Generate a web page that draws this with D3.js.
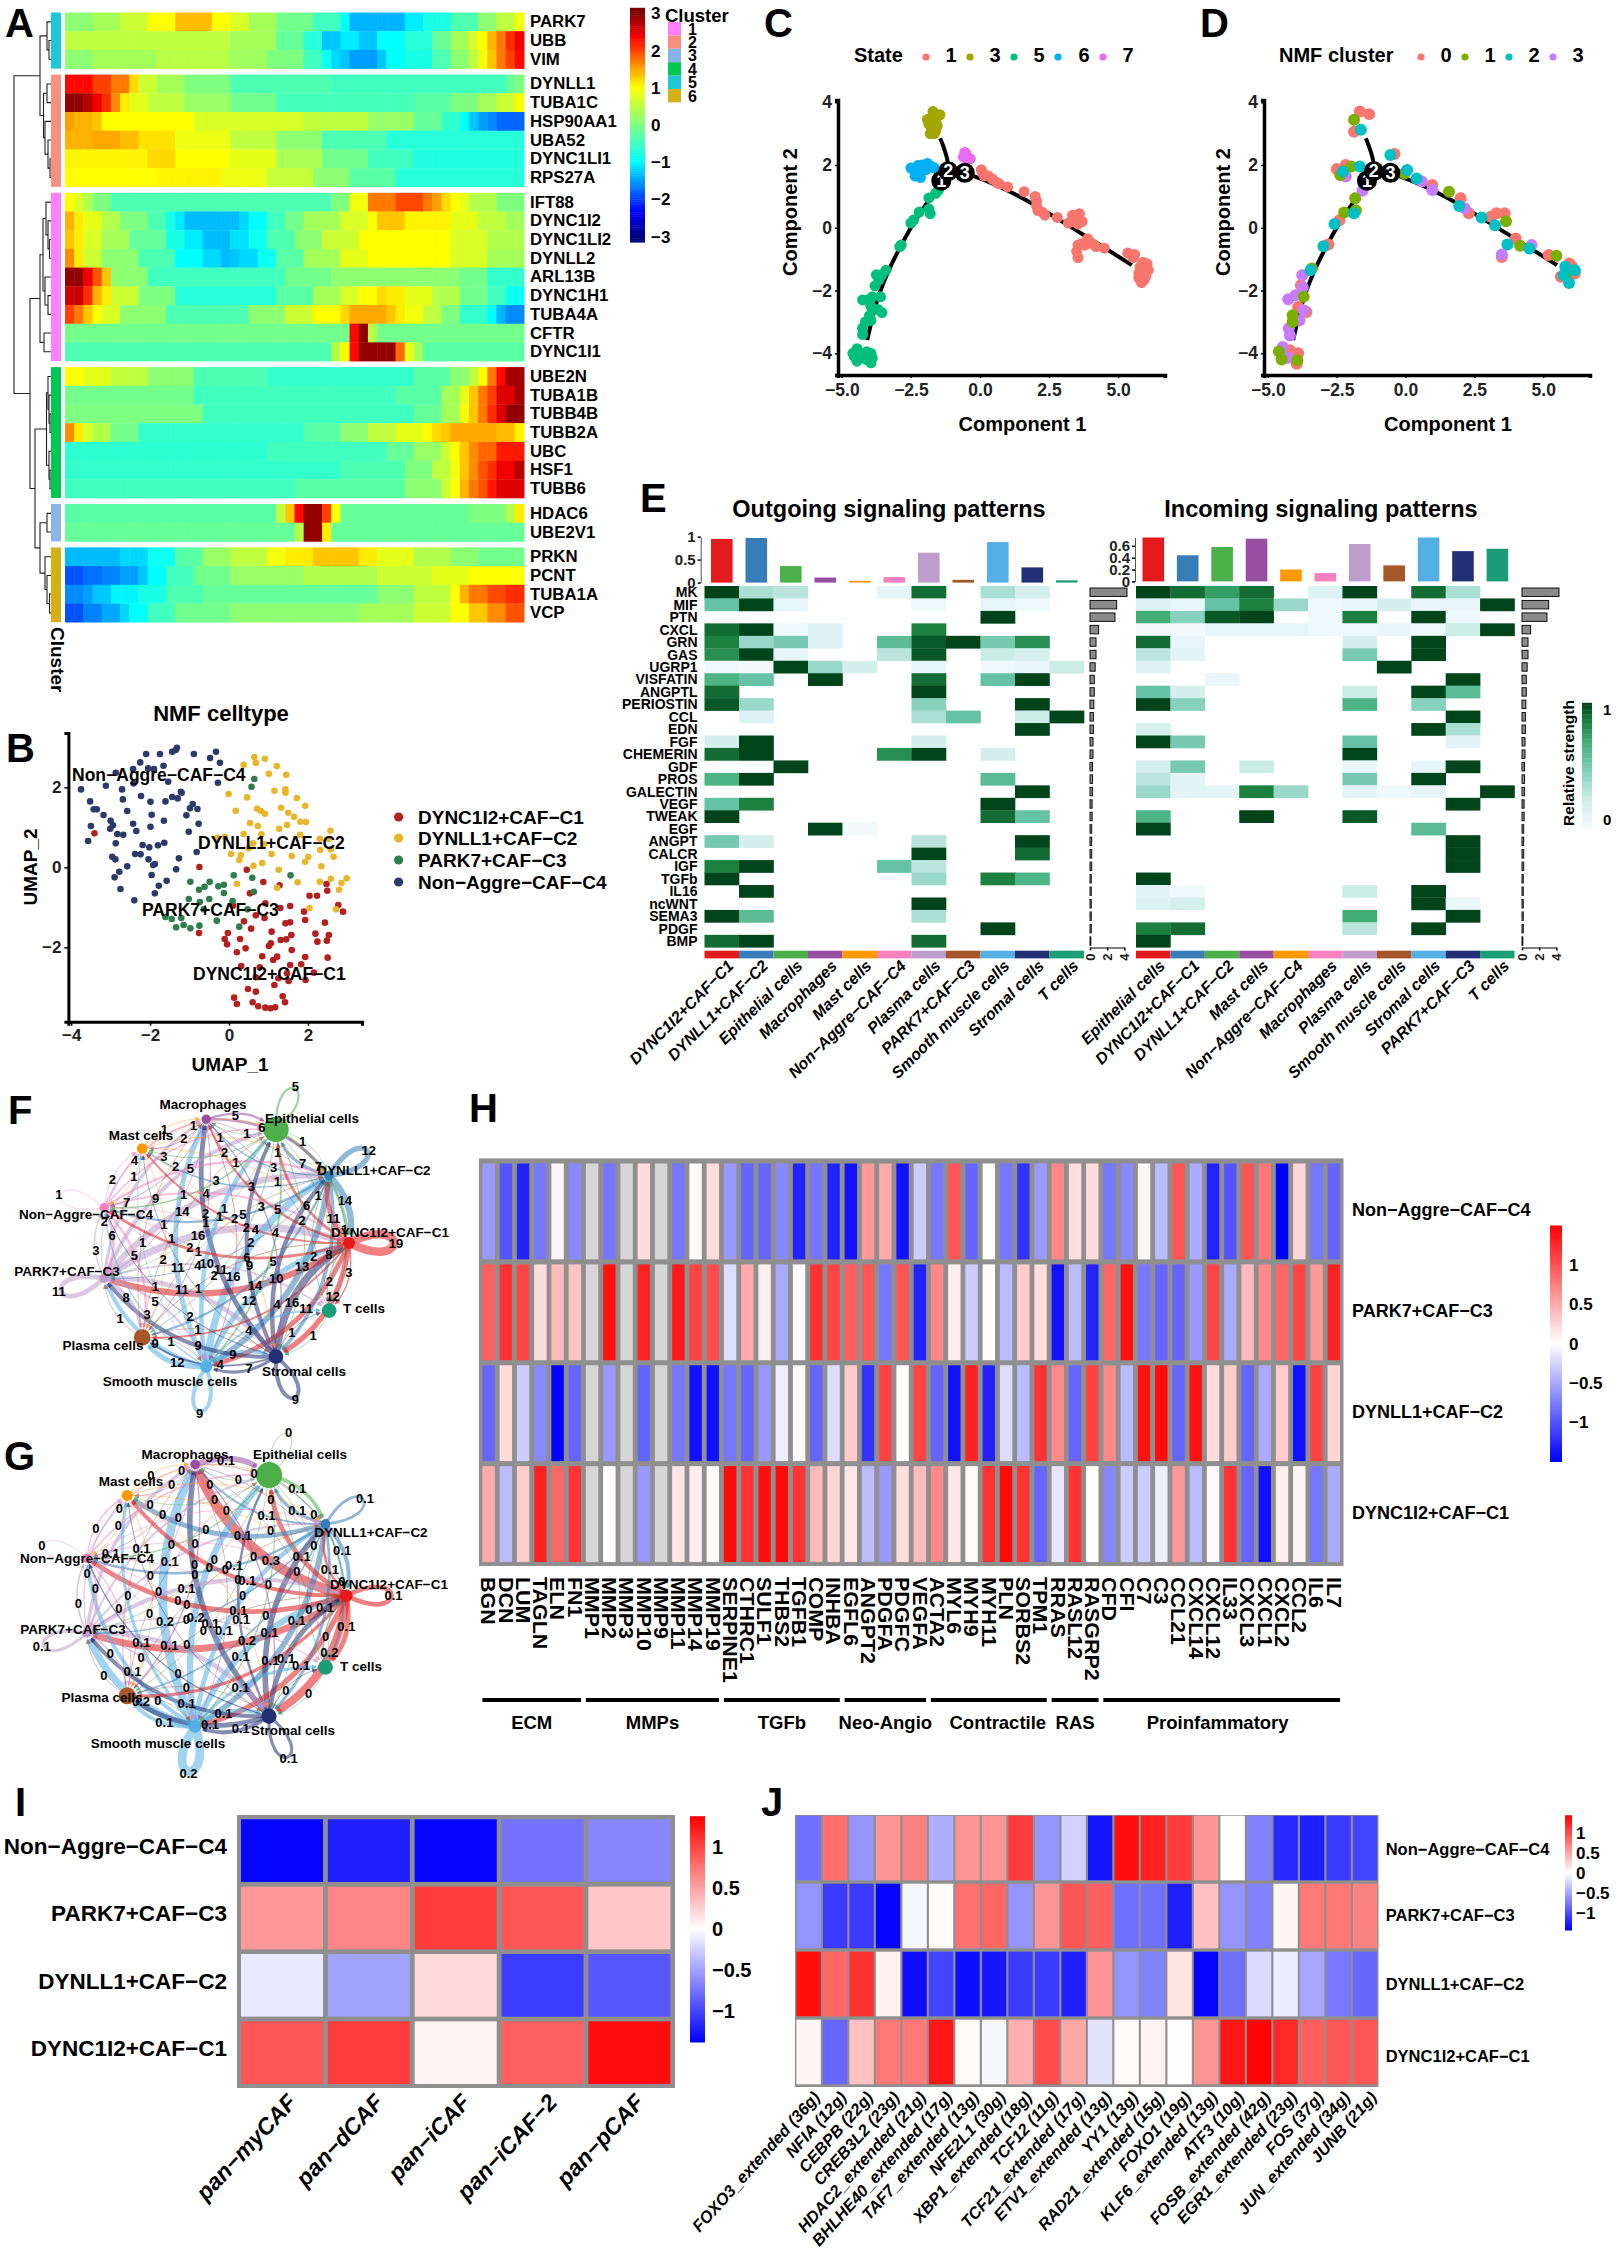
<!DOCTYPE html>
<html><head><meta charset="utf-8">
<script src="https://cdn.jsdelivr.net/npm/d3@7"></script>
<style>html,body{margin:0;background:#fff}svg{display:block}text{font-family:"Liberation Sans",Arial,sans-serif}</style>
</head><body>
<script>
/* ---------- Panel A data: each row is value,endColumn pairs over 50 pseudotime columns ---------- */
const aBlocks=[5,2,1,4,3,6];
const aGenes=[["PARK7","UBB","VIM"],["DYNLL1","TUBA1C","HSP90AA1","UBA52","DYNC1LI1","RPS27A"],
["IFT88","DYNC1I2","DYNC1LI2","DYNLL2","ARL13B","DYNC1H1","TUBA4A","CFTR","DYNC1I1"],
["UBE2N","TUBA1B","TUBB4B","TUBB2A","UBC","HSF1","TUBB6"],["HDAC6","UBE2V1"],["PRKN","PCNT","TUBA1A","VCP"]];
const aRuns={
PARK7:[.1,3,.3,6,.6,9,1,12,1.35,16,1,18,.7,20,.3,23,-.1,27,-.5,30,-1,31,-1.4,37,-1.1,39,-.8,42,-.4,45,.1,47,.5,49,.9,50],
UBB:[.5,18,.3,23,-.2,26,-.7,28,-1.3,30,-1.1,32,-1.3,34,-1,37,-.7,40,-.2,42,.3,44,.7,45,1,46,1.4,47,1.7,48,2.1,49,2.4,50],
VIM:[.1,3,.3,10,.45,18,.25,22,0,26,-.5,28,-.9,29,-1.2,30,-1.3,31,-1.5,34,-1.3,35,-1,37,-.8,40,-.4,42,.1,44,.5,45,.9,46,1.3,47,1.7,48,2,49,2.3,50],
DYNLL1:[2.3,3,2,5,1.7,7,1.2,8,.6,10,.3,13,0,18,-.4,29,-.5,48,-.2,49,0,50],
TUBA1C:[2.9,2,2.7,3,2.4,4,2.1,5,1.6,6,1.1,7,.8,9,.5,13,.2,18,-.1,23,-.45,38,-.3,42,0,45,.3,47,.6,49,1,50],
HSP90AA1:[1.5,1,1.4,3,1.3,4,1,14,.7,26,.5,33,.2,38,-.2,41,-.6,43,-1,44,-1.3,45,-1.5,46,-1.6,47,-1.8,50],
UBA52:[1.4,3,1.45,6,1.35,8,1.15,12,.85,18,.5,23,.1,28,-.4,35,-.7,50],
DYNC1LI1:[1.05,9,1.2,12,1,18,.8,23,.35,28,-.1,33,-.5,38,-.75,50],
RPS27A:[1,10,1.05,17,.85,22,.55,27,.1,31,-.3,36,-.7,50],
IFT88:[1,1,.7,2,.4,3,0,5,-.4,29,0,31,.9,33,1.7,36,1.95,39,1.7,40,1.5,41,1.2,42,1,43,.8,44,.4,47,0,50],
DYNC1I2:[1.4,1,1.1,2,.8,4,.4,6,0,9,-.4,11,-.8,12,-1.1,13,-1.35,19,-1.2,20,-1,22,-.5,24,-.1,26,.3,30,.7,33,1,34,1.3,37,1.05,42,.8,45,.5,48,.3,50],
DYNC1LI2:[1.3,1,1.1,2,.7,4,.3,7,-.2,11,-.8,13,-1.1,15,-1.35,18,-1.15,20,-.9,22,-.4,25,.1,28,.6,32,1,42,.7,46,.4,50],
DYNLL2:[1.6,1,1.1,2,.6,4,.1,8,-.4,12,-1,15,-1.2,17,-1.35,18,-1.3,19,-1.2,21,-.9,23,-.3,26,.3,30,.8,33,1,42,.7,46,.3,50],
ARL13B:[2.9,2,2.4,3,1.9,4,1.3,5,.1,9,-.5,24,-.1,29,.1,43,-.1,46,-.6,50],
DYNC1H1:[2.6,2,2.1,3,1.4,4,1.1,5,.6,8,0,12,-.7,23,-.3,27,.3,30,.7,32,1,34,1.2,35,1.1,37,.8,40,.4,43,-.1,46,-.5,48,-.9,50],
TUBA4A:[2,1,1.7,2,1.3,3,1,4,.7,6,.1,11,-.4,20,.1,24,.6,27,1,30,1.2,31,1.45,35,1.3,36,1.1,37,.9,39,.5,41,0,43,-.6,46,-1,47,-1.4,48,-1.6,50],
CFTR:[-.1,31,2.3,32,2.9,33,.4,34,-.1,50],
DYNC1I1:[-.4,29,.4,30,1,31,2.3,32,2.9,36,1.8,37,.8,38,.3,39,-.3,50],
UBE2N:[1,2,.8,5,.5,9,.1,14,-.4,22,-.6,38,-.3,42,.1,44,.5,45,1,46,1.7,47,2.3,48,2.8,50],
TUBA1B:[-.1,14,-.5,36,-.3,41,.3,43,.8,44,1.3,45,1.7,46,2,47,2.5,49,2.8,50],
TUBB4B:[0,15,-.5,38,-.2,41,.3,43,.9,44,1.3,45,1.7,46,2.1,47,2.5,48,2.9,50],
TUBB2A:[1.6,1,1.1,2,.7,3,.4,5,-.1,8,-.6,26,-.3,30,.1,33,.5,36,.8,39,1,40,1.2,41,1.3,42,1.45,47,1.35,49,1.05,50],
UBC:[-.65,22,-.5,35,-.2,38,.2,41,.6,42,1,43,1.3,44,1.6,45,1.8,47,2.2,50],
HSF1:[-.6,30,-.4,37,0,40,.5,42,.9,43,1.3,44,1.6,45,1.9,46,2.1,47,2.4,49,2.7,50],
TUBB6:[-.5,25,-.3,37,.1,41,.6,42,1,43,1.4,44,1.7,45,1.9,46,2.2,47,2.5,50],
HDAC6:[-.3,23,.5,24,1.3,25,2.3,26,2.9,28,2,29,1,30,-.2,44,0,48,.4,49,1.1,50],
UBE2V1:[-.2,25,.4,26,2.9,28,1.1,29,-.2,50],
PRKN:[-1.35,6,-1.2,9,-.9,12,-.3,15,.2,18,.5,22,.9,24,1.1,27,1.3,32,1.1,34,.8,38,.4,42,.1,45,-.1,50],
PCNT:[-1.9,2,-1.75,4,-1.65,6,-1.5,8,-1.3,9,-1,11,-.5,14,-.1,18,.2,26,.4,34,.6,40,.8,44,1,50],
TUBA1A:[-1.6,2,-1.5,3,-1.3,5,-1.05,8,-.8,11,-.4,15,-.2,34,.1,38,.5,42,1,43,1.4,44,1.7,46,1.95,48,2.1,50],
VCP:[-1.9,2,-1.65,4,-1.45,6,-1.2,7,-1,9,-.5,12,-.1,18,.1,32,.3,38,.6,42,1,44,1.3,46,1.6,48,1.9,50]};
const aTree=[37,[11,[4,0,[2,0,0]],[7.5,[4,0,0],[6,0,[3,0,[1,0,0]]]]],
 [21,[11,[8,[5,0,[3,0,[1.5,0,0]]],[6,0,[3,0,0]]],[7,0,0]],
 [16,[4.5,[3,0,[2,0,[1,0,0]]],[2,0,[1,0,0]]],[11,[4,0,0],[6,0,[4,0,[1.5,0,0]]]]]]];
const clusterColors={1:"#FF80FF",2:"#F98F80",3:"#88B4E8",4:"#00C853",5:"#1CC8D8",6:"#D4B017"};

/* ---------- Panel B ---------- */
const umapC4=[[205,268],[228,304],[237,328],[245,328],[262,345],[280,362],[230,378],[286,376],[279,386],[223,423],[297,402],[312,404],[293,430],[284,470],[292,478],[322,499],[302,515],[290,532],[305,567],[340,601],[392,580],[402,557],[422,542],[446,508],[384,525],[392,492],[388,495],[376,478],[356,463],[342,462],[361,435],[378,442],[400,436],[416,428],[453,475],[498,456],[478,395],[503,371],[472,346],[481,325],[488,312],[500,327],[458,275],[450,295],[436,291],[419,304],[415,362],[384,344],[381,380],[345,393],[337,371],[322,333],[311,298],[309,268],[268,257],[293,218],[337,207],[338,250],[355,187],[370,162],[375,205],[390,207],[405,162],[414,197],[426,245],[436,155],[445,150],[448,143],[491,162],[532,174],[547,155],[557,188],[552,248],[381,305],[357,288],[460,278]].map(p=>[(p[0]-580)/100,(502-p[1])/120]);
const umapC1=[[239,400],[505,501],[625,509],[667,546],[708,556],[633,580],[827,552],[829,572],[784,587],[803,587],[857,615],[869,635],[770,635],[672,610],[590,617],[710,624],[735,618],[648,646],[670,654],[618,664],[577,699],[569,717],[575,733],[504,699],[636,686],[608,717],[622,745],[600,757],[664,769],[688,695],[686,730],[681,738],[711,720],[725,718],[738,705],[739,750],[723,670],[735,667],[773,660],[823,668],[799,701],[833,705],[828,722],[804,725],[692,780],[702,770],[773,771],[830,773],[735,795],[763,793],[611,798],[658,802],[648,832],[727,820],[795,818],[705,835],[731,843],[774,840],[695,855],[628,867],[648,875],[593,893],[600,912],[640,907],[654,919],[672,923],[685,925],[697,922],[716,889],[722,907]].map(p=>[(p[0]-580)/100,(502-p[1])/120]);
const umapC2=[[644,171],[671,176],[648,188],[617,194],[701,198],[681,221],[725,224],[695,272],[723,268],[723,278],[579,282],[626,292],[752,294],[773,317],[597,332],[651,326],[660,332],[671,341],[712,323],[730,338],[745,350],[761,365],[775,366],[633,369],[653,378],[727,375],[707,386],[837,392],[617,402],[662,403],[760,404],[810,416],[832,417],[570,411],[550,413],[641,430],[630,445],[670,432],[585,462],[610,465],[606,480],[688,462],[739,468],[781,470],[773,485],[664,489],[642,497],[706,509],[814,499],[845,470],[811,450],[838,448],[600,551],[754,547],[810,545],[838,536],[865,549],[878,535],[859,569],[702,563],[784,624],[851,628]].map(p=>[(p[0]-580)/100,(502-p[1])/120]);
const umapC3=[[644,237],[637,260],[592,526],[639,533],[736,526],[482,545],[504,569],[518,560],[531,545],[553,559],[567,554],[567,579],[643,575],[478,597],[506,606],[530,597],[589,603],[516,628],[627,628],[419,651],[435,657],[459,654],[549,662],[465,675],[446,682],[482,685],[505,677],[606,680]].map(p=>[(p[0]-580)/100,(502-p[1])/120]);
const cafNames=["DYNC1I2+CAF−C1","DYNLL1+CAF−C2","PARK7+CAF−C3","Non−Aggre−CAF−C4"];
const cafColors=["#B3201F","#E9B62A","#2E7D4F","#2C3A6B"];

/* ---------- Panels C, D ---------- */
const state1=[[.05,1.85],[.1,1.75],[.15,1.65],[.3,1.65],[.45,1.55],[.6,1.45],[.7,1.4],[1,1.3],[1.6,1.15],[2,1],[2.05,.85],[2.05,.7],[2.1,.55],[2.25,.5],[2.35,.4],[2.8,.33],[3.2,.15],[3.3,.2],[3.35,.4],[3.4,.25],[3.5,.2],[3.55,.12],[3.6,.45],[3.6,.25],[3.7,.2],[3.9,-.35],[3.55,-.55],[3.5,-.75],[3.55,-.95],[3.7,-.5],[3.8,-.55],[4.05,-.5],[4.2,-.6],[4.5,-.65],[5.35,-.8],[5.6,-.85],[5.55,-.95],[5.9,-1.1],[6.05,-1.15],[5.8,-1.25],[5.95,-1.35],[6.1,-1.35],[5.75,-1.45],[5.9,-1.5],[6,-1.55],[5.75,-1.6],[5.85,-1.75],[5.95,-1.65]];
const state3=[[-1.7,3.7],[-1.45,3.6],[-1.9,3.45],[-1.7,3.5],[-1.85,3.3],[-1.6,3.35],[-1.75,3.15],[-1.6,3.1],[-1.8,3],[-1.65,3],[-1.55,3.25]];
const state5=[[-1.5,1.2],[-1.6,1.1],[-1.85,.95],[-1.85,.6],[-1.8,.45],[-2.2,.5],[-2.4,.25],[-2.5,.15],[-2.85,-.55],[-2.9,-.6],[-3.4,-1.35],[-3.55,-1.5],[-3.75,-1.5],[-3.65,-1.65],[-3.8,-1.85],[-3.6,-2.2],[-3.9,-2.2],[-4.1,-2.3],[-4.25,-2.3],[-3.95,-2.5],[-3.55,-2.7],[-3.7,-2.6],[-4,-2.8],[-3.95,-2.95],[-4.15,-3],[-4.25,-3.2],[-4.25,-3.4],[-4.5,-3.95],[-4.6,-4],[-4.45,-3.85],[-4.3,-4],[-4.1,-3.95],[-4.55,-4.1],[-4.4,-4.15],[-4.25,-4.05],[-4,-4.1],[-3.95,-4],[-4.45,-4.25],[-4.1,-4.2],[-3.95,-4.3],[-3.9,-4.15]];
const state6=[[-2.5,1.9],[-2.35,1.75],[-2.2,1.85],[-2.35,1.65],[-2.15,1.6],[-2.05,1.9],[-2.1,2],[-1.9,2.05],[-1.95,1.85],[-1.75,1.95],[-1.65,1.9],[-2.25,1.98]];
const state7=[[-.55,2.4],[-.6,2.25],[-.45,2.2],[-.5,2.35],[-.35,2.2]];
const nmf0=[[-2.5,1.87],[-2.17,2],[-.4,2.35],[.97,1.36],[2,.94],[2.3,.46],[3.1,.35],[3.3,.46],[3.6,.46],[4,-.34],[3.5,-.93],[-2.8,-.53],[-2.4,.24],[5.2,-.87],[-1.66,3.7],[-1.32,3.62],[-1.87,3.06],[-3.6,-2.68],[-3.9,-2.52],[-3.8,-1.83],[-4.2,-3.9],[-3.9,-4],[-3.95,-4.33],[6.05,-1.24],[6.15,-1.46],[5.64,-1.56],[5.95,-1.14]];
const nmf1=[[-1.97,1.95],[-1.87,3.44],[-.04,1.73],[1.58,1.15],[-1.83,.94],[-1.8,.56],[-2.23,.49],[3.65,.21],[4.16,-.57],[5.48,-.89],[5.84,-1.48],[-3.4,-1.3],[-3.7,-2.2],[-4.1,-2.79],[-4.1,-3],[-4.6,-3.94],[-4.5,-4.2],[-3.93,-4.22],[-2.37,1.68]];
const nmf2=[[-1.66,1.95],[-2.27,1.79],[-1.62,3.12],[-.55,2.32],[.06,1.84],[.4,1.57],[1.95,.69],[2.76,.33],[3.25,.08],[3.7,-.53],[4.5,-.66],[-1.87,.46],[-2.58,.12],[-2.98,-.59],[-3.45,-1.35],[5.8,-1.24],[6.15,-1.35],[5.74,-1.51],[5.94,-1.76]];
const nmf3=[[-2.17,1.63],[.6,1.47],[.97,1.2],[2.15,.62],[3.5,-.85],[-1.56,1.18],[-3.75,-1.51],[-3.73,-1.9],[-4,-2.15],[-4.26,-2.28],[-3.7,-2.63],[-3.85,-2.95],[-4.24,-3.21],[-4.2,-3.43],[-4.46,-3.8],[-4.26,-4.14],[4.58,-.55]];
const trunkA=[[-4.08,-3.58],[-3.6,-2],[-2.62,-.18],[-1.5,1.31]];
const trunkB=[[-.55,1.71],[-.18,1.63],[1.44,.99],[3.67,-.18],[5.5,-1.19]];
const trunkC=[[-1.44,2.85],[-1.16,1.95],[-1.4,1.47]];
const branchPts=[[-1.4,1.5,"1"],[-1.15,1.8,"2"],[-.55,1.75,"3"]];

/* ---------- Panel E ---------- */
const _=null;
const signals=["MK","MIF","PTN","CXCL","GRN","GAS","UGRP1","VISFATIN","ANGPTL","PERIOSTIN","CCL","EDN","FGF","CHEMERIN","GDF","PROS","GALECTIN","VEGF","TWEAK","EGF","ANGPT","CALCR","IGF","TGFb","IL16","ncWNT","SEMA3","PDGF","BMP"];
const outCols=["DYNC1I2+CAF−C1","DYNLL1+CAF−C2","Epithelial cells","Macrophages","Mast cells","Non−Aggre−CAF−C4","Plasma cells","PARK7+CAF−C3","Smooth muscle cells","Stromal cells","T cells"];
const inCols=["Epithelial cells","DYNC1I2+CAF−C1","DYNLL1+CAF−C2","Mast cells","Non−Aggre−CAF−C4","Macrophages","Plasma cells","Smooth muscle cells","Stromal cells","PARK7+CAF−C3","T cells"];
const stripColors=["#E41A1C","#377EB8","#4DAF4A","#984EA3","#FF9900","#F781BF","#BC9DCC","#A65628","#54B0E4","#222F75","#1B9E77"];
const outTop=[.95,.97,.36,.11,.04,.12,.65,.06,.88,.33,.05];
const inTop=[.74,.44,.58,.72,.2,.14,.63,.27,.74,.51,.55];
const outSide=[4.3,3.1,2.9,1,.7,.7,.6,.5,.5,.45,.4,.4,.35,.35,.3,.3,.3,.25,.25,.2,.2,.2,.2,.15,.15,.15,.15,.15,.1];
const inSide=[4.3,3.1,2.9,1,.7,.7,.6,.5,.5,.45,.4,.4,.35,.35,.3,.3,.3,.25,.25,.2,.2,.2,.2,.15,.15,.15,.15,.15,.1];
const outHeat=[[1,.35,.3,_,_,.1,.9,_,.35,.2,_],[.55,1,.1,_,_,_,.05,_,.1,.05,_],[_,_,_,_,_,_,_,_,1,_,_],[.9,1,.05,.15,_,_,.85,_,_,_,_],[.85,.4,.5,.15,_,.6,.95,1,.5,.8,_],[.8,1,.1,_,_,.3,.95,_,.25,.2,_],[.05,.03,1,.4,.2,_,.1,_,.05,.08,.25],[.65,.55,_,1,_,_,.9,_,.55,1,_],[.9,_,_,_,_,_,1,_,_,_,_],[.95,.4,_,_,_,_,.45,_,_,1,_],[_,.15,_,_,_,_,.35,.55,_,.25,1],[_,_,_,_,_,_,_,_,_,1,_],[.2,1,_,_,_,_,.2,_,_,_,_],[.9,1,_,_,_,.8,1,_,.2,_,_],[_,_,1,_,_,_,_,_,_,_,_],[.65,1,_,_,_,_,_,_,.6,_,_],[_,_,_,_,_,_,_,_,_,1,_],[.55,.85,_,_,_,_,_,_,1,_,_],[1,_,_,_,_,_,_,_,.9,.55,_],[_,_,_,1,.03,_,_,_,_,_,_],[.5,.2,_,_,_,_,.3,_,_,1,_],[_,_,_,_,_,_,1,_,_,.9,_],[.85,1,_,_,_,.55,.3,_,_,_,_],[1,_,_,_,_,_,.4,_,.85,.65,_],[_,1,_,_,_,_,_,_,_,_,_],[_,_,_,_,_,_,1,_,_,_,_],[1,.6,_,_,_,_,.35,_,_,_,_],[_,_,_,_,_,_,_,_,1,_,_],[.9,1,_,_,_,_,.9,_,_,_,_]];
const inHeat=[[1,.9,.75,.9,_,.15,1,_,.9,.35,_],[.15,.08,.55,.85,.4,.05,.08,.2,.07,.08,1],[.7,.45,.95,1,_,.05,.85,_,1,.05,_],[.03,.03,.1,.1,.1,.05,.05,.07,.05,.25,1],[.9,.08,_,_,_,_,.2,_,1,_,_],[.3,.12,_,_,_,_,.5,_,1,_,_],[.15,_,_,_,_,_,_,1,_,_,_],[_,_,.08,_,_,_,_,_,_,1,_],[.55,.2,_,_,_,_,.25,_,1,.6,_],[1,.45,_,_,_,_,.65,_,.45,_,_],[_,_,_,_,_,_,_,_,_,1,_],[.2,_,_,_,_,_,_,_,1,.35,_],[1,.5,_,_,_,_,.55,_,_,.12,_],[_,_,_,_,_,_,1,_,_,_,_],[.2,.5,_,.25,_,_,.08,_,.1,1,_],[.3,.12,_,_,_,_,.5,_,1,_,_],[.4,.12,.12,.85,.4,_,.12,.05,.1,_,1],[_,_,_,_,_,_,_,_,_,1,_],[.65,_,_,1,_,_,.95,_,_,_,_],[1,_,_,_,_,_,_,_,.6,_,_],[_,_,_,_,_,_,_,_,_,1,_],[_,_,_,_,_,_,_,_,_,1,_],[_,_,_,_,_,_,_,_,_,1,_],[1,_,_,_,_,_,_,_,_,_,_],[.12,.04,_,_,_,_,.25,_,1,_,_],[.15,.2,_,_,_,_,_,_,1,.08,_],[_,_,_,_,_,_,.7,_,_,1,_],[.85,.9,_,_,_,_,.3,_,1,_,_],[1,_,_,_,_,_,_,_,_,_,_]];

/* ---------- Panels F, G: nodes and weighted edges [source,target,value] ---------- */
const netNodes=["DYNC1I2+CAF−C1","DYNLL1+CAF−C2","Epithelial cells","Macrophages","Mast cells","Non−Aggre−CAF−C4","PARK7+CAF−C3","Plasma cells","Smooth muscle cells","Stromal cells","T cells"];
const netColors=["#E41A1C","#377EB8","#4DAF4A","#984EA3","#FF9900","#F781BF","#BC9DCC","#A65628","#54B0E4","#222F75","#1B9E77"];
const netSizes=[6,4.7,12.7,4.7,5.3,4.7,4.7,8.3,6,7.3,7.3];
const fEdges=[[0,0,19],[1,1,12],[2,2,5],[5,5,1],[6,6,11],[8,8,9],[9,9,9],
[0,1,11],[0,2,6],[0,3,5],[0,4,4],[0,5,6],[0,6,14],[0,7,4],[0,8,11],[0,9,12],[0,10,3],
[1,0,14],[1,2,7],[1,3,3],[1,4,3],[1,5,5],[1,6,2],[1,7,5],[1,8,13],[1,9,8],[1,10,1],
[2,0,7],[2,1,1],[2,3,1],[2,4,2],[2,5,3],[2,6,1],[2,7,2],[2,8,4],[2,9,2],[2,10,1],
[3,0,1],[3,1,6],[3,2,5],[3,4,2],[3,5,2],[3,6,1],[3,7,2],[3,8,2],[3,9,3],[3,10,1],
[4,0,1],[4,1,1],[4,2,1],[4,3,1],[4,5,1],[4,7,1],[4,9,1],
[5,0,4],[5,1,5],[5,2,3],[5,3,4],[5,4,2],[5,6,6],[5,7,5],[5,8,2],[5,9,2],[5,10,1],
[6,0,16],[6,1,14],[6,2,9],[6,3,7],[6,4,2],[6,5,3],[6,7,8],[6,8,5],[6,9,11],[6,10,4],
[7,0,2],[7,1,1],[7,2,1],[7,3,1],[7,6,1],[7,8,1],[7,9,1],
[8,0,12],[8,1,16],[8,2,10],[8,3,11],[8,4,1],[8,5,3],[8,6,9],[8,7,12],[8,9,9],[8,10,4],
[9,0,16],[9,1,10],[9,2,9],[9,3,11],[9,4,1],[9,5,2],[9,6,9],[9,7,4],[9,8,7],[9,10,1],
[10,0,2],[10,1,2],[10,9,1]];
const gEdges=[[0,0,.12],[1,1,.07],[2,2,.02],[5,5,.01],[6,6,.08],[8,8,.22],[9,9,.08],
[0,1,.06],[0,2,.12],[0,3,.25],[0,4,.1],[0,5,.12],[0,6,.17],[0,7,.08],[0,8,.13],[0,9,.2],[0,10,.12],
[1,0,.1],[1,2,.08],[1,3,.05],[1,4,.12],[1,5,.06],[1,6,.04],[1,7,.04],[1,8,.14],[1,9,.07],[1,10,.04],
[2,0,.03],[2,1,.09],[2,3,.01],[2,4,.01],[2,5,.03],[2,6,.02],[2,7,.02],[2,8,.03],[2,9,.02],[2,10,.01],
[3,0,.02],[3,1,.02],[3,2,.14],[3,4,.01],[3,5,.01],[3,6,.01],[3,7,.03],[3,8,.01],[3,9,.03],[3,10,.01],
[4,0,.01],[4,1,.01],[4,2,.01],[4,3,.01],[4,5,.01],[4,7,.01],[4,9,.01],
[5,0,.02],[5,1,.02],[5,2,.04],[5,3,.03],[5,4,.03],[5,6,.04],[5,7,.03],[5,8,.02],[5,9,.02],[5,10,.01],
[6,0,.1],[6,1,.05],[6,2,.05],[6,3,.09],[6,4,.03],[6,5,.04],[6,7,.04],[6,8,.04],[6,9,.12],[6,10,.03],
[7,0,.02],[7,1,.01],[7,2,.01],[7,3,.01],[7,6,.01],[7,8,.01],[7,9,.01],
[8,0,.15],[8,1,.12],[8,2,.16],[8,3,.22],[8,4,.08],[8,5,.1],[8,6,.18],[8,7,.1],[8,9,.1],[8,10,.08],
[9,0,.12],[9,1,.14],[9,2,.06],[9,3,.14],[9,4,.02],[9,5,.03],[9,6,.1],[9,7,.12],[9,8,.1],[9,10,.02],
[10,0,.03],[10,1,.02],[10,9,.01]];

/* ---------- Panel H ---------- */
const hGenes=["BGN","DCN","LUM","TAGLN","ELN","FN1","MMP1","MMP2","MMP3","MMP10","MMP9","MMP11","MMP14","MMP19","SERPINE1","CTHRC1","SULF1","THBS2","TGFB1","COMP","INHBA","EGFL6","ANGPT2","PDGFA","PDGFC","VEGFA","ACTA2","MYL6","MYH9","MYH11","PLN","SORBS2","TPM1","RRAS","RASL12","RASGRP2","CFD","CFI","C7","C3","CCL21","CXCL14","CXCL12","IL33","CXCL3","CXCL1","CXCL2","CCL2","IL6","IL7"];
const hRows=["Non−Aggre−CAF−C4","PARK7+CAF−C3","DYNLL1+CAF−C2","DYNC1I2+CAF−C1"];
const hNon=[-.6,-1,-1.3,-.8,.05,-.7,_,-.8,_,.2,_,-.8,.02,.2,-.6,-.9,-.9,-.7,-1.3,-.8,-1.3,-1.4,.6,.5,-1.4,-.3,-.8,1,-.9,0,-.8,-1.2,-.6,.7,.2,.2,-.8,-.7,.05,-.4,1,-.5,-1.3,-1,1,.8,-1.5,.25,-.8,-.9];
const hPark=[.95,1.2,1.1,.2,.4,.35,_,1.4,_,1.3,_,1.35,1.1,1.05,-.2,.5,.1,-.5,.03,1.2,1.1,.95,1,-.8,1,-1.3,.7,.1,-.3,.02,-.4,.3,.2,-1.4,-.4,-1.3,.9,1.4,-.8,-.9,-.9,-.6,1.1,-.5,.4,.7,.9,1.1,.6,1.3];
const hDyn=[-.9,.2,-.3,-.7,-1.5,-.9,_,-.6,_,-.9,_,-.8,-1.4,-1.4,-.8,-.9,-.6,-.1,.03,-.9,-.2,.3,-1.2,1.1,.02,1.1,-.9,-1.4,1.3,-1.3,-.2,-.4,1.2,.7,-.9,1.1,.7,-.4,1.4,1.45,-.9,1.4,.2,.3,-.9,-.5,.3,-1.4,1.1,.25];
const hC1=[.5,-.4,.3,1.3,.9,1.2,_,.02,_,-.6,_,.15,.1,.03,1.45,1.2,1.4,1.45,1.2,.4,.25,.15,-.4,-.6,.2,.4,.7,.15,.03,1.2,1.45,1.2,-.9,-.15,1.2,.02,-.7,-.3,-.3,-.1,.6,-.4,.03,1.2,-.9,-1.4,.1,.05,-.8,-.5];
const hGroups=[["ECM",0,5,0],["MMPs",6,13,0],["TGFb",14,20,0],["Neo-Angio",21,25,0],["Contractile",26,32,9],["RAS",33,35,0],["Proinfammatory",36,49,-4]];

/* ---------- Panel I ---------- */
const iCols=["pan−myCAF","pan−dCAF","pan−iCAF","pan−iCAF−2","pan−pCAF"];
const iNon=[-1.35,-1.2,-1.35,-.75,-.65],iPark=[.55,.65,1.05,.9,.3],iDyn=[-.12,-.5,.2,-1.05,-.9],iC1=[.9,1.05,.06,.85,1.3];

/* ---------- Panel J ---------- */
const jCols=["FOXO3_extended (36g)","NFIA (12g)","CEBPB (22g)","CREB3L2 (23g)","HDAC2_extended (21g)","BHLHE40_extended (17g)","TAF7_extended (13g)","NFE2L1 (30g)","XBP1_extended (18g)","TCF12 (11g)","TCF21_extended (17g)","ETV1_extended (13g)","YY1 (13g)","RAD21_extended (15g)","FOXO1 (19g)","KLF6_extended (13g)","ATF3 (10g)","FOSB_extended (42g)","EGR1_extended (23g)","FOS (37g)","JUN_extended (34g)","JUNB (21g)"];
const jNon=[-.8,.8,-.6,.6,.7,-.45,.6,.6,1.1,-.6,-.25,-1.3,1.35,1.25,1.1,.6,0,-.7,-1.2,-1.25,-1.1,-1.05];
const jPark=[-.6,-1.1,-1.1,-1.4,-.05,.02,.8,.85,-.6,.6,.95,.9,-.8,-.8,-1.25,.35,-.6,-.7,.05,.75,.75,.7];
const jDyn=[1.35,.85,1.15,.08,-1.35,-1.05,-1.35,-1.3,-1.1,-1.1,-1.25,.6,-.6,-.7,.15,-1.4,-.8,-.2,-.1,-.5,-.75,-.85];
const jC1=[.05,-.85,.35,.75,.75,1.3,.03,-.05,.45,1,.5,-.15,.02,.07,0,.6,1.3,1.4,1.2,.9,.95,.95];

/* ========== drawing ========== */
const svg=d3.select("body").append("svg").attr("width",1616).attr("height",2250).attr("viewBox","0 0 1616 2250");
function T(x,y,s,o={}){
  const e=svg.append("text").attr("transform",`translate(${x},${y})`+(o.rot?` rotate(${o.rot})`:"")+(o.sx?` scale(${o.sx},1)`:""))
   .attr("font-size",o.size||14).attr("font-weight",o.weight||"bold").attr("text-anchor",o.anchor||"start")
   .attr("dominant-baseline","central").attr("fill",o.fill||"#000").text(s);
  if(o.italic)e.attr("font-style","italic");return e;}
const letters=[["A",5,23],["B",6,748],["C",764,23],["D",1200,23],["E",640,498],["F",8,1110],["G",4,1456],["H",469,1108],["I",15,1802],["J",761,1802]];
letters.forEach(l=>T(l[1],l[2],l[0],{size:40}));

/* A */
(function(){
 const jet=d3.scaleLinear().domain([-3,-2.33,-1.67,-1,0,1,1.67,2.33,3]).range(["#00007F","#0000FF","#007FFF","#00FFFF","#7FFF7F","#FFFF00","#FF7F00","#FF0000","#7F0000"]).clamp(true);
 const x=d3.scaleBand().domain(d3.range(50)).range([65,524]);
 const rowH=18.7,gap=6;let y=12.5;const leafY=[];
 aGenes.forEach((genes,b)=>{
  svg.append("rect").attr("x",51).attr("y",y).attr("width",10).attr("height",rowH*genes.length).attr("fill",clusterColors[aBlocks[b]]);
  genes.forEach(g=>{
   const runs=aRuns[g],vals=[];let c=0;
   for(let i=0;i<runs.length;i+=2){while(c<runs[i+1]){vals.push(runs[i]);c++}}
   svg.append("g").selectAll("rect").data(vals).join("rect").attr("x",(d,i)=>x(i)).attr("y",y).attr("width",x.bandwidth()+.5).attr("height",rowH+.3).attr("fill",d=>jet(d));
   T(530,y+rowH/2,g,{size:16.8});
   leafY.push(y+rowH/2);y+=rowH;
  });
  y+=gap;
 });
 let leaf=0;const den=svg.append("g").attr("stroke","#222").attr("stroke-width",1.1).attr("fill","none");
 function draw(n){ if(n===0){return {x:51,y:leafY[leaf++]}}
  const a=draw(n[1]),b=draw(n[2]),nx=51-n[0];
  den.append("path").attr("d",`M${a.x},${a.y}H${nx}V${b.y}H${b.x}`);
  return {x:nx,y:(a.y+b.y)/2};}
 draw(aTree);
 T(57,627,"Cluster",{size:19,rot:90});
 const cb=d3.scaleLinear().domain([3,-3]).range([13.4,236.6]);
 svg.append("g").selectAll("rect").data(d3.range(-3.15,3.15,.05)).join("rect").attr("x",630).attr("width",15).attr("y",d=>cb(d)-1.9).attr("height",2.3).attr("fill",d=>jet(d));
 const ax=svg.append("g").attr("transform","translate(645,0)").call(d3.axisRight(cb).tickValues([3,2,1,0,-1,-2,-3]).tickFormat(d3.format("d")).tickSize(0).tickPadding(6));
 ax.select(".domain").remove();ax.selectAll("text").attr("font-size",17).attr("font-weight","bold").attr("font-family","Liberation Sans");
 T(665,15,"Cluster",{size:18.5});
 d3.range(1,7).forEach((k,i)=>{svg.append("rect").attr("x",668).attr("y",22+i*13.4).attr("width",13).attr("height",13.4).attr("fill",clusterColors[k]);
  T(688,29+i*13.4,k,{size:16});});
})();

function styleAxis(g,size,w){g.selectAll(".domain").attr("stroke","#000").attr("stroke-width",w);g.selectAll("line").attr("stroke","#000").attr("stroke-width",1.5);
 g.selectAll("text").attr("font-size",size).attr("font-weight","bold").attr("font-family","Liberation Sans").attr("fill","#222");}

/* B */
(function(){
 const x=d3.scaleLinear().domain([-4.07,3.37]).range([68.4,362]),y=d3.scaleLinear().domain([-3.86,3.36]).range([1021.7,733]);
 styleAxis(svg.append("g").attr("transform","translate(0,1021.7)").call(d3.axisBottom(x).tickValues([-4,-2,0,2]).tickFormat(d3.format("d")).tickSizeOuter(0).tickSize(4)),17,3);
 styleAxis(svg.append("g").attr("transform","translate(68.4,0)").call(d3.axisLeft(y).tickValues([-2,0,2]).tickFormat(d3.format("d")).tickSizeOuter(0).tickSize(4)),17,3);
 [[umapC1,0],[umapC2,1],[umapC3,2],[umapC4,3]].forEach(([pts,k])=>{
  svg.append("g").selectAll("circle").data(pts).join("circle").attr("cx",d=>x(d[0])).attr("cy",d=>y(d[1])).attr("r",3.3).attr("fill",cafColors[k]);});
 T(221,713,"NMF celltype",{size:22,anchor:"middle"});
 T(30,867,"UMAP_2",{size:19,anchor:"middle",rot:-90});T(230,1064,"UMAP_1",{size:19,anchor:"middle"});
 T(72,775,cafNames[3],{size:17.5});T(198,843,cafNames[1],{size:17.5});T(142,910,cafNames[2],{size:17.5});T(193,974,cafNames[0],{size:17.5});
 cafNames.forEach((n,i)=>{const yy=[817,838,860,882][i];svg.append("circle").attr("cx",398.6).attr("cy",yy).attr("r",4.6).attr("fill",cafColors[i]);T(418,yy,n,{size:19});});
})();

/* C & D */
function traj(x0,x1,groups,legendTitle,legTx,legendItems,yLabX,r){
 const x=d3.scaleLinear().domain([-5.14,6.7]).range([x0,x1]),y=d3.scaleLinear().domain([-4.69,4.07]).range([375,100]);
 styleAxis(svg.append("g").attr("transform","translate(0,375)").call(d3.axisBottom(x).tickValues([-5,-2.5,0,2.5,5]).tickFormat(d3.format(".1f")).tickSizeOuter(0).tickSize(3).tickPadding(6)),17.5,3.5);
 styleAxis(svg.append("g").attr("transform",`translate(${x0},0)`).call(d3.axisLeft(y).tickValues([-4,-2,0,2,4]).tickFormat(d3.format("d")).tickSizeOuter(0).tickSize(3)),17.5,3.5);
 const line=d3.line().x(d=>x(d[0])).y(d=>y(d[1])).curve(d3.curveCatmullRom);
 [trunkA,trunkB,trunkC].forEach(p=>svg.append("path").attr("d",line(p)).attr("fill","none").attr("stroke","#000").attr("stroke-width",4));
 groups.forEach(([pts,c])=>svg.append("g").selectAll("circle").data(pts).join("circle").attr("cx",d=>x(d[0])).attr("cy",d=>y(d[1])).attr("r",r).attr("fill",c));
 branchPts.forEach(b=>{svg.append("circle").attr("cx",x(b[0])).attr("cy",y(b[1])).attr("r",10).attr("fill","#000");T(x(b[0]),y(b[1]),b[2],{size:18,anchor:"middle",fill:"#fff"});});
 const cx=(x0+x1)/2+21;
 T(cx,424,"Component 1",{size:20,anchor:"middle"});T(yLabX,212,"Component 2",{size:20,anchor:"middle",rot:-90});
 T(legTx,55,legendTitle,{size:20});
 legendItems.forEach(([lab,c,cxx,tx])=>{svg.append("circle").attr("cx",cxx).attr("cy",57).attr("r",3.6).attr("fill",c);T(tx,55,lab,{size:20,anchor:"middle"});});
}
traj(838,1165,[[state1,"#F8766D"],[state3,"#A3A500"],[state5,"#00BF7D"],[state6,"#00B0F6"],[state7,"#E76BF3"]],"State",854,
 [["1","#F8766D",926,951],["3","#A3A500",970,995],["5","#00BF7D",1014,1039],["6","#00B0F6",1058,1084],["7","#E76BF3",1103,1128]],790,5.5);
traj(1264,1590,[[nmf0,"#F8766D"],[nmf3,"#C77CFF"],[nmf1,"#7CAE00"],[nmf2,"#00BFC4"]],"NMF cluster",1279,
 [["0","#F8766D",1421,1446],["1","#7CAE00",1465,1490],["2","#00BFC4",1509,1534],["3","#C77CFF",1553,1578]],1223,6);

/* E */
(function(){
 const green=d3.scaleLinear().domain([0,.1,.25,.4,.55,.7,.85,1]).range(["#F7FCFD","#E5F5F9","#CCECE6","#99D8C9","#66C2A4","#41AE76","#1B8040","#00441B"]);
 const rowY=d3.scaleBand().domain(signals).range([586,947.3]);
 function panel(x0,x1,cols,heat,top,side,sideX,topScale,topTicks,axisX,title,titleX,showRows){
  const x=d3.scaleBand().domain(d3.range(11)).range([x0,x1]);
  heat.forEach((r,i)=>svg.append("g").selectAll("rect").data(r.map((v,j)=>[v,j]).filter(d=>d[0]!==null)).join("rect")
    .attr("x",d=>x(d[1])).attr("y",rowY(signals[i])).attr("width",x.bandwidth()+.3).attr("height",rowY.bandwidth()+.3).attr("fill",d=>green(d[0])));
  svg.append("g").selectAll("rect").data(top).join("rect").attr("x",(d,i)=>x(i)+6.5).attr("width",21.6).attr("y",d=>topScale(d)).attr("height",d=>topScale(0)-topScale(d)).attr("fill",(d,i)=>stripColors[i]);
  svg.append("g").selectAll("rect").data(d3.range(11)).join("rect").attr("x",d=>x(d)).attr("y",950.7).attr("width",x.bandwidth()).attr("height",7.7).attr("fill",d=>stripColors[d]);
  const ya=svg.append("g").attr("transform",`translate(${axisX},0)`).call(d3.axisLeft(topScale).tickValues(topTicks).tickFormat(d3.format("~g")).tickSize(3).tickPadding(2).tickSizeOuter(0));
  styleAxis(ya,15,1);ya.selectAll(".domain").attr("stroke","#555");
  const sx=d3.scaleLinear().domain([0,4]).range([sideX,sideX+34.4]);
  svg.append("g").selectAll("rect").data(side).join("rect").attr("x",sideX).attr("y",(d,i)=>rowY(signals[i])+2).attr("width",d=>sx(d)-sideX).attr("height",rowY.bandwidth()-4).attr("fill","#8a8a8a").attr("stroke","#111").attr("stroke-width",1);
  const sa=svg.append("g").attr("transform","translate(0,947.5)").call(d3.axisBottom(sx).tickValues([0,2,4]).tickFormat(d3.format("d")).tickSize(3).tickPadding(2).tickSizeOuter(0));
  styleAxis(sa,13,1);sa.selectAll("text").attr("transform","rotate(-90)").attr("text-anchor","end").attr("dy","0.35em").attr("x",-6).attr("y",0);
  T(titleX,509,title,{size:23.5,anchor:"middle"});
  cols.forEach((c,i)=>T(x(i)+x.bandwidth()/2+9,963,c,{size:16,anchor:"end",rot:-45,italic:true}));
  if(showRows)signals.forEach(s=>T(697.5,rowY(s)+rowY.bandwidth()/2,s,{size:14,anchor:"end"}));
 }
 panel(704.5,1084,outCols,outHeat,outTop,outSide,1090,d3.scaleLinear().domain([0,1]).range([582.6,536.6]),[0,.5,1],700.7,"Outgoing signaling patterns",889,true);
 panel(1136,1514.5,inCols,inHeat,inTop,inSide,1522,d3.scaleLinear().domain([0,.74]).range([581.4,537.5]),[0,.2,.4,.6],1135,"Incoming signaling patterns",1321,false);
 const cb=d3.scaleLinear().domain([0,1]).range([830,704]);
 svg.append("g").selectAll("rect").data(d3.range(0,1.001,.01)).join("rect").attr("x",1582).attr("width",10).attr("y",d=>cb(d)-1.2).attr("height",1.7).attr("fill",d=>green(d));
 T(1603,709.6,"1",{size:15});T(1603,819,"0",{size:15});
 T(1568,763,"Relative strength",{size:15.5,anchor:"middle",rot:-90});
})();

/* F & G */
function network(cx,cy,r,edges,widthScale,fmt,labels,sizeMul){
 const ang=d3.scaleLinear().domain([0,11]).range([0,2*Math.PI]);
 const nodes=netNodes.map((n,i)=>({n,i,x:cx+r*Math.cos(ang(i)),y:cy-r*Math.sin(ang(i)),r:netSizes[i]*sizeMul}));
 const defs=svg.append("defs");const id="m"+Math.round(cx);
 netColors.forEach((c,i)=>defs.append("marker").attr("id",id+i).attr("viewBox","0 0 6 6").attr("refX",5).attr("refY",3).attr("markerUnits","userSpaceOnUse").attr("markerWidth",5).attr("markerHeight",5).attr("orient","auto").append("path").attr("d","M0,0L6,3L0,6z").attr("fill",c).attr("fill-opacity",.7));
 const g=svg.append("g").attr("fill","none");const labs=[];
 const sorted=edges.slice().sort((a,b)=>b[2]-a[2]);
 sorted.forEach(([s,t,v])=>{
  const a=nodes[s],b=nodes[t],w=Math.max(.7,widthScale(v));
  if(s===t){
   const dx=a.x-cx,dy=a.y-cy,l=Math.hypot(dx,dy),ux=dx/l,uy=dy/l,px=-uy,py=ux,L=60,W=30;
   const c1=[a.x+ux*L+px*W,a.y+uy*L+py*W],c2=[a.x+ux*L-px*W,a.y+uy*L-py*W];
   g.append("path").attr("d",`M${a.x},${a.y}C${c1} ${c2} ${a.x},${a.y}`).attr("stroke",netColors[s]).attr("stroke-opacity",.55).attr("stroke-width",w);
   labs.push([a.x+ux*47,a.y+uy*47,v]);return;}
  const dx=b.x-a.x,dy=b.y-a.y,C=[(a.x+b.x)/2+dy*.24,(a.y+b.y)/2-dx*.24];
  const tr=(P,Q,d)=>{const l=Math.hypot(Q[0]-P[0],Q[1]-P[1]);return [P[0]+(Q[0]-P[0])/l*d,P[1]+(Q[1]-P[1])/l*d]};
  const E=tr([b.x,b.y],C,b.r+2),S=tr([a.x,a.y],C,a.r*.4);
  g.append("path").attr("d",`M${S}Q${C} ${E}`).attr("stroke",netColors[s]).attr("stroke-opacity",.55).attr("stroke-width",w).attr("marker-end",`url(#${id}${s})`);
  const q=.4,u=1-q;
  labs.push([u*u*a.x+2*u*q*C[0]+q*q*b.x,u*u*a.y+2*u*q*C[1]+q*q*b.y,v]);
 });
 svg.append("g").selectAll("circle").data(nodes).join("circle").attr("cx",d=>d.x).attr("cy",d=>d.y).attr("r",d=>d.r).attr("fill",d=>netColors[d.i]);
 labs.forEach(l=>T(l[0],l[1],fmt(l[2]),{size:13,anchor:"middle"}));
 nodes.forEach((n,i)=>T(labels[i][0],labels[i][1],n.n,{size:13.5,anchor:"middle"}));
}
const fLabels=[[390,1232],[374,1170],[312,1118],[203,1104],[141,1135],[86,1214],[67,1271],[103,1345],[170,1381],[304,1371],[364,1308]];
const gLabels=[[389,1584],[371,1532],[300,1454],[185,1454],[131,1481],[87,1558],[73,1629],[102,1697.5],[158,1743],[293,1730],[361,1666]];
network(224,1243,125,fEdges,d3.scaleLinear().domain([0,19]).range([0,8.5]),d3.format("d"),fLabels,1);
network(214,1595.6,132.5,gEdges,d3.scaleLinear().domain([0,.25]).range([0,10]),d3.format(".1~f"),gLabels,1.03);

/* heat grids */
const bwr=dom=>d3.scaleLinear().domain([-dom,0,dom]).range(["#0000FF","#FFFFFF","#FF0000"]).clamp(true);
function grid(rows,cols,frame,xr,yr,padX,padY,color){
 svg.append("rect").attr("x",frame[0]).attr("y",frame[1]).attr("width",frame[2]-frame[0]).attr("height",frame[3]-frame[1]).attr("fill","#8f8f8f");
 const x=d3.scaleBand().domain(cols).range(xr).paddingInner(padX),y=d3.scaleBand().domain(d3.range(rows.length)).range(yr).paddingInner(padY);
 rows.forEach((r,i)=>svg.append("g").selectAll("rect").data(r).join("rect").attr("x",(d,j)=>x(cols[j])).attr("y",y(i)).attr("width",x.bandwidth()).attr("height",y.bandwidth()).attr("fill",d=>d===null?"#D6D6D6":color(d)));
 return x;}
function colorbar(x0,x1,y0,y1,dom,ticks,color,size,pad){
 const s=d3.scaleLinear().domain([dom,-dom]).range([y0,y1]);
 svg.append("g").selectAll("rect").data(d3.range(-dom,dom,dom/60)).join("rect").attr("x",x0).attr("width",x1-x0).attr("y",d=>s(d)-(y1-y0)/120-.5).attr("height",(y1-y0)/120+1).attr("fill",d=>color(d));
 const a=svg.append("g").attr("transform",`translate(${x1},0)`).call(d3.axisRight(s).tickValues(ticks).tickSize(0).tickPadding(pad).tickFormat(d3.format("~g")));
 a.select(".domain").remove();a.selectAll("text").attr("font-size",size).attr("font-weight","bold").attr("font-family","Liberation Sans");}

/* H */
(function(){
 const c=bwr(1.5);
 const x=grid([hNon,hPark,hDyn,hC1],hGenes,[479,1158.4,1343.5,1566],[482.4,1340],[1163.5,1562],.28,.05,c);
 hRows.forEach((r,i)=>T(1352,[1210,1311,1412,1512.6][i],r,{size:18}));
 hGenes.forEach(g=>T(x(g)+x.bandwidth()/2,1577,g,{size:19.5,rot:90,sx:1.1}));
 hGroups.forEach(([n,a,b,dx])=>{const x0=x(hGenes[a]),x1=x(hGenes[b])+x.bandwidth();
  svg.append("rect").attr("x",x0).attr("y",1698).attr("width",x1-x0).attr("height",4).attr("fill","#000");
  T((x0+x1)/2+dx,1722,n,{size:18.5,anchor:"middle"});});
 colorbar(1550,1562,1226,1461.5,1.5,[1,.5,0,-.5,-1],c,17,7);
})();

/* I */
(function(){
 const c=bwr(1.37);
 const x=grid([iNon,iPark,iDyn,iC1],iCols,[237,1815,675,2088],[241,670.4],[1819.3,2084],.055,.07,c);
 hRows.forEach((r,i)=>T(227,[1846,1913,1981,2048][i],r,{size:22.5,anchor:"end"}));
 iCols.forEach(g=>T(x(g)+x.bandwidth()/2+10,2098,g,{size:23,anchor:"end",rot:-47,italic:true}));
 colorbar(690,705,1816.7,2042,1.37,[1,.5,0,-.5,-1],c,20,7);
})();

/* J */
(function(){
 const c=bwr(1.43);
 const x=grid([jNon,jPark,jDyn,jC1],jCols,[795,1815,1378.5,2087],[796.4,1377.3],[1815.7,2084.3],.08,.05,c);
 hRows.forEach((r,i)=>T(1385.7,[1849,1914.7,1984,2055.7][i],r,{size:16.5}));
 jCols.forEach(g=>T(x(g)+x.bandwidth()/2+8,2094,g,{size:16.5,anchor:"end",rot:-48,italic:true}));
 colorbar(1565,1572,1815.7,1930,1.43,[1,.5,0,-.5,-1],c,17,4);
})();
</script>
</body></html>
